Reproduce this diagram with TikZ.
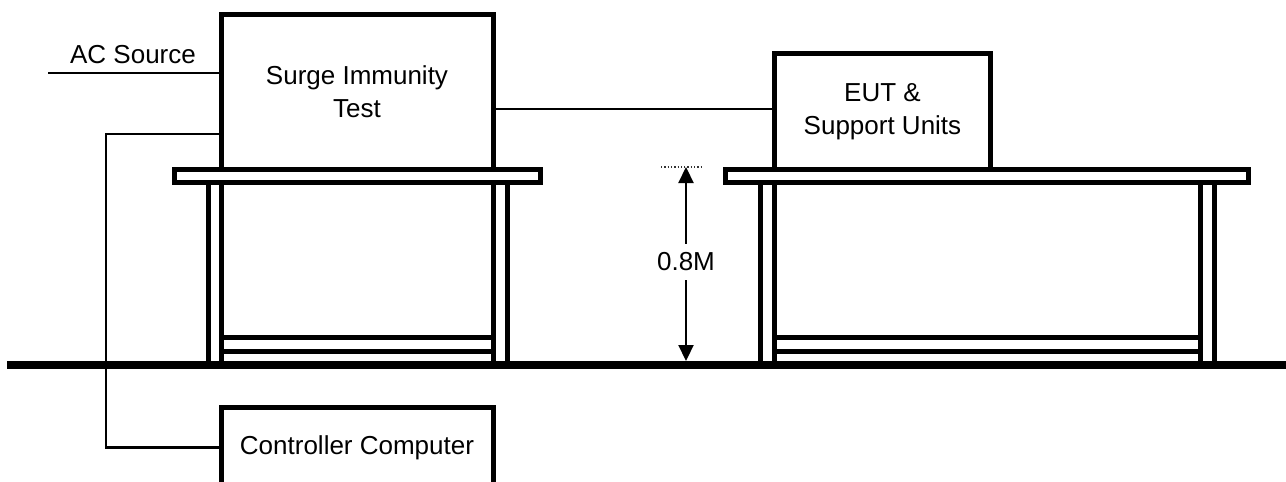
\documentclass[tikz,border=0pt]{standalone}
\usepackage{fontspec}
\setmainfont{Liberation Sans}
\usetikzlibrary{arrows.meta,calc}
\begin{document}
\begin{tikzpicture}[x=1pt,y=-1pt,
  box/.style={draw=black,line width=5pt,rectangle,inner sep=0pt,align=center,
    font=\fontsize{26}{33}\selectfont},
  wire/.style={draw=black,line width=2.2pt},
  thick5/.style={line width=5pt},
  lbl/.style={font=\fontsize{26}{33}\selectfont,inner sep=0pt},
  dimarrow/.style={wire,>={Triangle[length=16pt,width=15pt]},<->}]
\useasboundingbox (0,0) rectangle (1286,482);
\clip (0,0) rectangle (1286,482);
\fill[white] (0,0) rectangle (1286,482);
% boxes
\node[box,minimum width=272pt,minimum height=155.5pt] (surge) at (357,91.75) {Surge Immunity\\Test};
\node[box,minimum width=216pt,minimum height=116pt] (eut) at (882.5,111.5) {EUT \&\\Support Units};
\node[box,minimum width=272pt,minimum height=80pt] (ctrl) at (357,447.5) {Controller Computer};
% tables
\draw[thick5] (174.5,169.5) rectangle (540.5,182.5);
\draw[thick5] (725.5,169.5) rectangle (1248.5,182.5);
\foreach \x in {208,221,493,507,760,774,1200,1214}
  \draw[thick5] (\x,185) -- (\x,362);
\foreach \y in {337,351}{
  \draw[thick5] (221,\y) -- (493,\y);
  \draw[thick5] (774,\y) -- (1200,\y);}
% floor
\draw[line width=8pt] (7,365) -- (1286,365);
% connectors
\coordinate (acEnd) at (48,73);
\node[lbl] (ac) at (133,55) {AC Source};
\draw[wire] (acEnd) -- (acEnd -| surge.west);
\coordinate (cc) at (106,134);
\draw[wire] (cc -| surge.west) -- (cc) |- (ctrl.west);
\coordinate (se) at (600,109);
\draw[wire] (se -| surge.east) -- (se -| eut.west);
% dimension
\coordinate (dimTop) at (686,167);
\coordinate (dimBot) at (686,361);
\draw[black!80,line width=1.3pt,dotted] (661,167) -- (703,167);
\draw[dimarrow] (dimTop) -- (dimBot);
\node[lbl,fill=white,inner xsep=2pt,inner ysep=9pt] (dim) at (686,262) {0.8M};
\end{tikzpicture}
\end{document}
